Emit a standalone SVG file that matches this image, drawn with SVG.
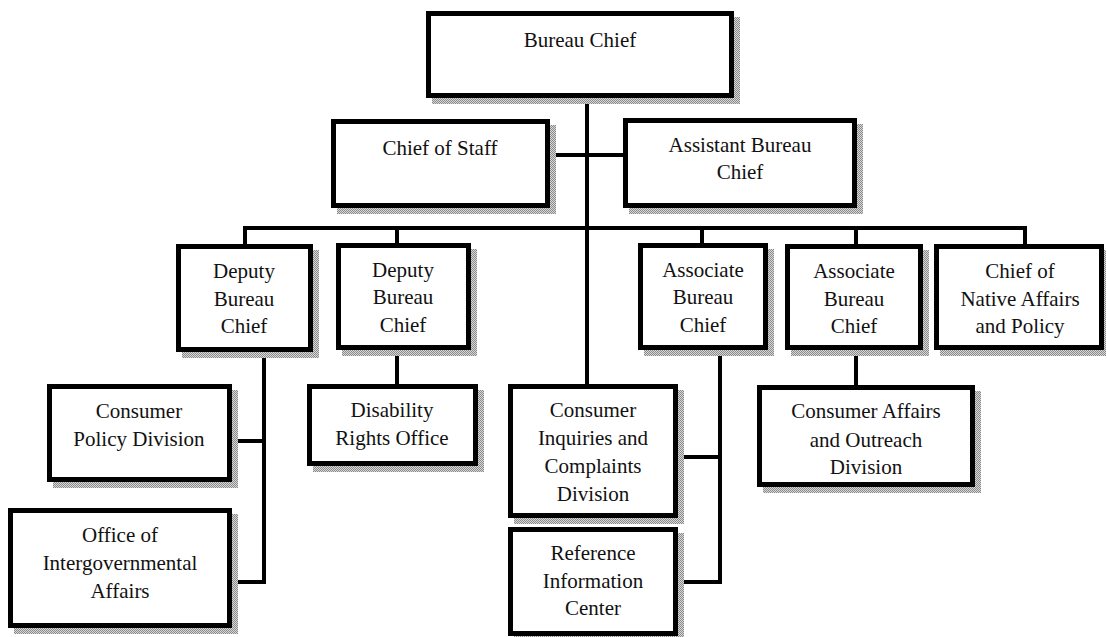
<svg xmlns="http://www.w3.org/2000/svg" width="1107" height="637" viewBox="0 0 1107 637">
  <defs>
    <!-- dithered grey used for the drop shadows -->
    <pattern id="dither" width="2" height="2" patternUnits="userSpaceOnUse">
      <rect width="2" height="2" fill="#d8d8d8"/>
      <rect width="1" height="1" fill="#8a8a8a"/>
      <rect x="1" y="1" width="1" height="1" fill="#8a8a8a"/>
    </pattern>
  </defs>
  <style>
    .shadow { fill: url(#dither); }
    .box { fill: #ffffff; stroke: #000000; stroke-width: 5; }
    text { font-family: 'Times New Roman', Times, 'Liberation Serif', Tinos, 'Nimbus Roman', FreeSerif, 'Noto Serif', 'DejaVu Serif', serif; font-size: 21px; fill: #111111; text-anchor: middle; }
    .wire { fill: none; stroke: #000000; stroke-width: 4; stroke-linejoin: miter; }
  </style>
  <rect width="1107" height="637" fill="#ffffff"/>

  <!-- connectors -->
  <g id="connectors" class="wire">
    <path d="M587,98 V384"/>
    <path d="M550,155 H623"/>
    <path d="M245,244 V228 H1025 V244"/>
    <path d="M397,228 V243"/>
    <path d="M702,228 V243"/>
    <path d="M856,228 V244"/>
    <path d="M232,441 H264 M264,352 V582 H232"/>
    <path d="M397,350 V384"/>
    <path d="M678,457 H720 M720,350 V582 H678"/>
    <path d="M856,350 V385"/>
  </g>

  <g id="bureau-chief">
    <rect class="shadow" x="432" y="17" width="308" height="87"/>
    <rect class="box" x="428.5" y="13.5" width="303" height="82"/>
    <text x="580" y="47">Bureau Chief</text>
  </g>

  <g id="chief-of-staff">
    <rect class="shadow" x="337" y="125" width="219" height="89"/>
    <rect class="box" x="333.5" y="121.5" width="214" height="84"/>
    <text x="440" y="155">Chief of Staff</text>
  </g>

  <g id="assistant-bureau-chief">
    <rect class="shadow" x="629" y="124" width="234" height="90"/>
    <rect class="box" x="625.5" y="120.5" width="229" height="85"/>
    <text x="740" y="152">Assistant Bureau</text>
    <text x="740" y="179">Chief</text>
  </g>

  <g id="deputy-bureau-chief-1">
    <rect class="shadow" x="182" y="250" width="137" height="108"/>
    <rect class="box" x="178.5" y="246.5" width="132" height="103"/>
    <text x="244" y="278">Deputy</text>
    <text x="244" y="306">Bureau</text>
    <text x="244" y="333">Chief</text>
  </g>

  <g id="deputy-bureau-chief-2">
    <rect class="shadow" x="342" y="249" width="135" height="107"/>
    <rect class="box" x="338.5" y="245.5" width="130" height="102"/>
    <text x="403" y="277">Deputy</text>
    <text x="403" y="304">Bureau</text>
    <text x="403" y="332">Chief</text>
  </g>

  <g id="associate-bureau-chief-1">
    <rect class="shadow" x="644" y="249" width="130" height="107"/>
    <rect class="box" x="640.5" y="245.5" width="125" height="102"/>
    <text x="703" y="277">Associate</text>
    <text x="703" y="304">Bureau</text>
    <text x="703" y="332">Chief</text>
  </g>

  <g id="associate-bureau-chief-2">
    <rect class="shadow" x="791" y="250" width="138" height="106"/>
    <rect class="box" x="787.5" y="246.5" width="133" height="101"/>
    <text x="854" y="278">Associate</text>
    <text x="854" y="306">Bureau</text>
    <text x="854" y="333">Chief</text>
  </g>

  <g id="chief-native-affairs">
    <rect class="shadow" x="940" y="250" width="166" height="106"/>
    <rect class="box" x="936.5" y="246.5" width="165" height="101"/>
    <text x="1020" y="278">Chief of</text>
    <text x="1020" y="306">Native Affairs</text>
    <text x="1020" y="333">and Policy</text>
  </g>

  <g id="consumer-policy-division">
    <rect class="shadow" x="53" y="390" width="185" height="98"/>
    <rect class="box" x="49.5" y="386.5" width="180" height="93"/>
    <text x="139" y="418">Consumer</text>
    <text x="139" y="446">Policy Division</text>
  </g>

  <g id="intergovernmental-affairs">
    <rect class="shadow" x="14" y="514" width="224" height="120"/>
    <rect class="box" x="10.5" y="510.5" width="219" height="115"/>
    <text x="120" y="542">Office of</text>
    <text x="120" y="570">Intergovernmental</text>
    <text x="120" y="598">Affairs</text>
  </g>

  <g id="disability-rights-office">
    <rect class="shadow" x="313" y="390" width="171" height="82"/>
    <rect class="box" x="309.5" y="386.5" width="166" height="77"/>
    <text x="392" y="417">Disability</text>
    <text x="392" y="445">Rights Office</text>
  </g>

  <g id="consumer-inquiries-division">
    <rect class="shadow" x="514" y="390" width="170" height="134"/>
    <rect class="box" x="510.5" y="386.5" width="165" height="129"/>
    <text x="593" y="417">Consumer</text>
    <text x="593" y="445">Inquiries and</text>
    <text x="593" y="473">Complaints</text>
    <text x="593" y="501">Division</text>
  </g>

  <g id="reference-information-center">
    <rect class="shadow" x="514" y="533" width="170" height="110"/>
    <rect class="box" x="510.5" y="529.5" width="165" height="104"/>
    <text x="593" y="560">Reference</text>
    <text x="593" y="588">Information</text>
    <text x="593" y="615">Center</text>
  </g>

  <g id="consumer-affairs-outreach">
    <rect class="shadow" x="763" y="391" width="218" height="102"/>
    <rect class="box" x="759.5" y="387.5" width="213" height="97"/>
    <text x="866" y="418">Consumer Affairs</text>
    <text x="866" y="447">and Outreach</text>
    <text x="866" y="474">Division</text>
  </g>
</svg>
